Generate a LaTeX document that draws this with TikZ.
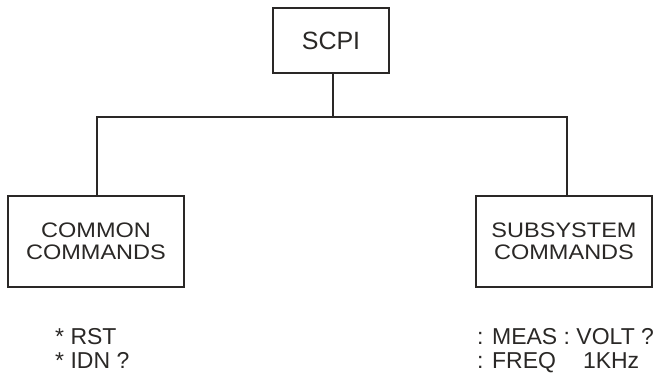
\documentclass[tikz,border=0pt]{standalone}
\usepackage{fontspec}
\setmainfont{Liberation Sans}
\definecolor{ink}{HTML}{2A2826}
\begin{document}
\begin{tikzpicture}[x=1pt,y=-1pt,
  box/.style={draw=ink,line width=1.3pt,inner sep=0pt,text=ink,align=center,font=\fontsize{21}{22}\selectfont\addfontfeature{FakeStretch=1.12}},
  conn/.style={draw=ink,line width=1.3pt},
  cmd/.style={anchor=base west,inner sep=0pt,text=ink,align=left,font=\fontsize{23}{23.5}\selectfont}]
\useasboundingbox (0,0) rectangle (660,373);
\node[box,minimum width=116pt,minimum height=65pt,font=\fontsize{25}{25}\selectfont] (scpi) at (331,40.5) {SCPI};
\node[box,minimum width=176pt,minimum height=91pt] (common) at (96,241.5) {COMMON\\COMMANDS};
\node[box,minimum width=176pt,minimum height=91pt] (subsys) at (564,241.5) {SUBSYSTEM\\COMMANDS};
\coordinate (jc) at (333,117);
\coordinate (jl) at (97,117);
\coordinate (jr) at (567,117);
\draw[conn] (scpi.south -| jc) -- (jc);
\draw[conn,line cap=rect] (jl) -- (jr);
\draw[conn] (jl) -- (common.north -| jl);
\draw[conn] (jr) -- (subsys.north -| jr);
\node[cmd] (ccmds) at (55,368) {* RST\\* IDN ?};
\node[cmd] (scmds) at (477,368) {: MEAS : VOLT ?\\: FREQ\hspace{27pt}1KHz};
\end{tikzpicture}
\end{document}
